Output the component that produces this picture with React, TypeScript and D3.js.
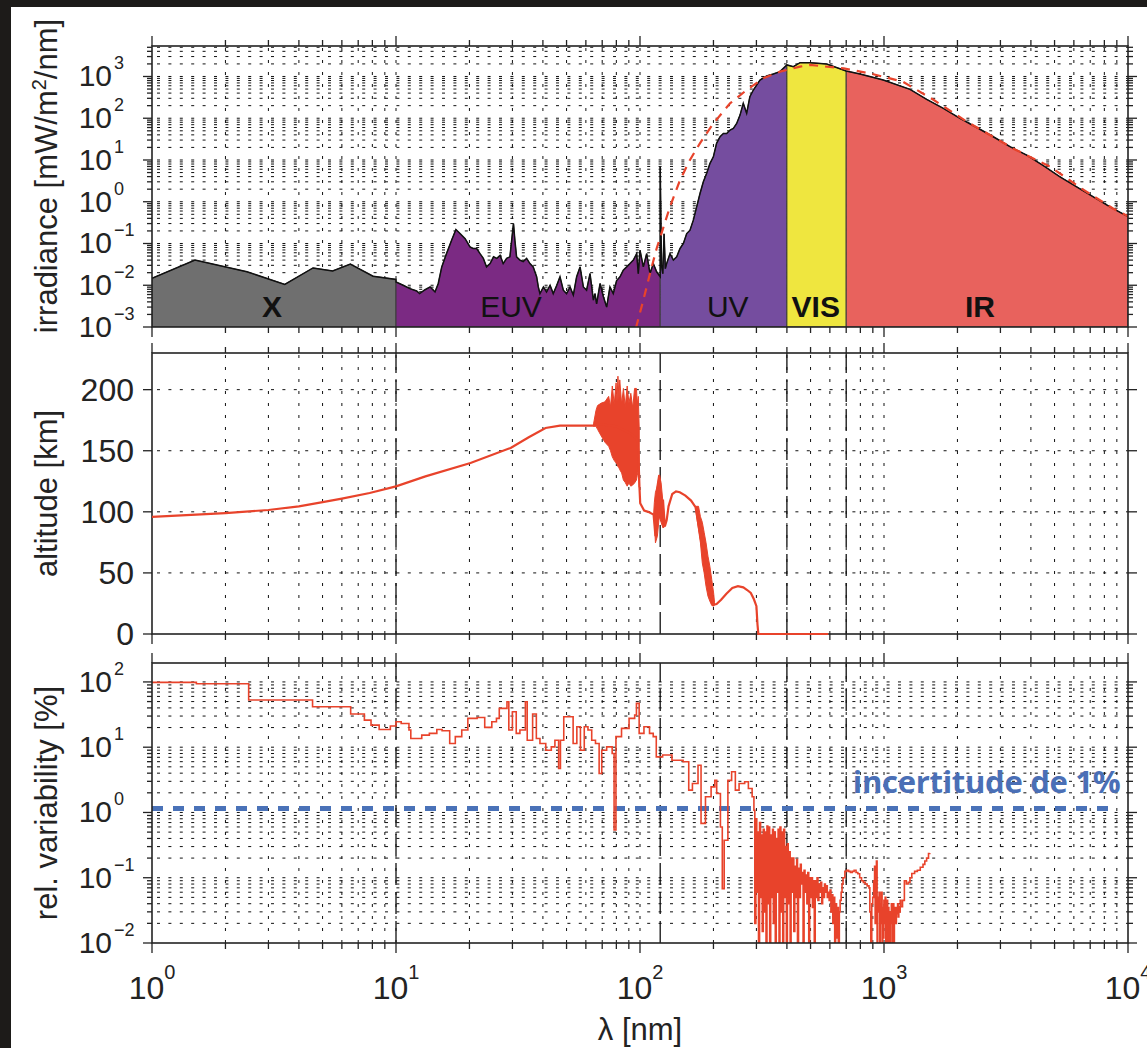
import React from 'react';
import * as d3 from 'd3';

type P = [number, number];
type E = [number, number, number];

// ---------------- DATA ----------------
// Irradiance spectrum [nm, mW/m²/nm], per band
const xRayIrradiance: P[] = [
  [1, 0.0147], [1.5, 0.04], [2.45, 0.021], [3.5, 0.0105], [4.57, 0.026], [5.5, 0.022],
  [6.5, 0.032], [8.05, 0.0165], [10, 0.0138],
];
const euvIrradiance: P[] = [
  [10, 0.012], [10.7, 0.01], [11.4, 0.0083], [12.15, 0.0073], [12.5, 0.0063], [13.15, 0.0078],
  [13.8, 0.0091], [14.45, 0.0069], [14.9, 0.011], [15.4, 0.0275], [16.1, 0.057], [16.9, 0.12],
  [17.6, 0.216], [18.3, 0.173], [19.2, 0.13], [20.1, 0.083], [20.7, 0.076], [21.4, 0.076],
  [22.1, 0.057], [22.8, 0.044], [23.5, 0.0275], [24.3, 0.033], [25.1, 0.048], [25.9, 0.044],
  [26.7, 0.052], [27.5, 0.033], [28.4, 0.044], [29.3, 0.048], [30.3, 0.3], [30.7, 0.12],
  [31.2, 0.048], [32.2, 0.04], [33.2, 0.037], [34.3, 0.044], [35.4, 0.033], [36.5, 0.0275],
  [37.7, 0.016], [38.3, 0.0091], [38.9, 0.0063], [40.2, 0.0091], [41.4, 0.0069], [42.8, 0.01],
  [44.1, 0.0063], [45.6, 0.01], [47.0, 0.016], [48.5, 0.0076], [50.0, 0.0063], [51.7, 0.0091],
  [53.3, 0.0058], [55.0, 0.016], [56.8, 0.0275], [58.6, 0.0091], [60.4, 0.0076], [62.4, 0.019],
  [64.4, 0.0044], [65.4, 0.0063], [66.4, 0.0036], [68.6, 0.011], [70.8, 0.0053], [73.0, 0.003],
  [75.3, 0.0091], [77.7, 0.0063], [80.2, 0.013], [82.8, 0.016], [85.4, 0.023], [88.2, 0.0275],
  [91.0, 0.033], [93.9, 0.04], [96.9, 0.057], [98.4, 0.019], [100, 0.069], [103.2, 0.0275],
  [106.5, 0.057], [109.9, 0.019], [113.4, 0.033], [117.0, 0.021], [121, 0.016],
];
const uvIrradiance: P[] = [
  [121, 6.9], [122.5, 0.03], [124, 0.019], [125.5, 0.17], [127, 0.025], [128.6, 0.033],
  [132.7, 0.057], [137, 0.04], [141.4, 0.048], [145.9, 0.076], [150.6, 0.1], [155.4, 0.173],
  [160.3, 0.208], [165.4, 0.362], [170.7, 0.755], [176.2, 1.58], [181.8, 3.0], [187.6, 4.8],
  [193.6, 8.3], [199.8, 11.9], [206, 25], [212.8, 36], [219.6, 43], [226.6, 43], [233.9, 52],
  [241.3, 57], [249, 75], [257, 119], [265, 227], [273.6, 131], [282, 328], [291.4, 474],
  [310.3, 824], [330.4, 1028], [351.9, 1148], [374.7, 1306], [400, 1889],
];
const visIrradiance: P[] = [
  [400, 1889], [425, 1722], [453, 2146], [497, 2146], [582, 1995], [700, 1350],
];
const irIrradiance: P[] = [
  [700, 1350], [797, 1148], [993, 824], [1278, 492], [1496, 283], [1751, 172], [2049, 99],
  [2399, 60], [2806, 36], [3284, 20.8], [3844, 13.1], [4498, 7.3], [5263, 3.96], [6160, 2.28],
  [7210, 1.31], [8437, 0.755], [10000, 0.44],
];
// dashed reference curve (black body)
const blackbodyCurve: P[] = [
  [93, 0.0004], [96.9, 0.0011], [103.2, 0.0044], [109.9, 0.019], [117, 0.076], [124.6, 0.24],
  [132.7, 0.755], [145.9, 3.3], [160, 9.9], [176, 25], [199.8, 75], [233.9, 227], [273.6, 474],
  [320, 904], [374.7, 1306], [453, 1722], [497, 1889], [684, 1563], [897, 1148], [1197, 745],
  [1600, 273], [2136, 90], [3378, 18.9], [4795, 6.9], [6441, 2.08], [8674, 0.69], [10000, 0.45],
];

// Altitude of absorption [nm, km]
const altitudeLine: P[] = [
  [1, 95.8], [2, 99], [3, 101.5], [4, 104.5], [4.94, 107.7], [6, 110.8], [7.8, 115.4], [10, 120.8],
  [13.2, 129], [20.2, 140], [29.5, 152.3], [35, 161], [41, 168.6], [47, 170.5], [55, 170.5],
  [64.5, 170.5], [67, 172], [80, 170], [90, 165], [97, 160], [98.4, 150], [99.5, 120],
  [100.2, 107], [104, 101], [108, 100], [113.7, 97.7], [115.7, 80], [117.8, 120], [119.9, 130],
  [122, 95], [124.2, 110], [126.4, 88], [128.6, 93], [130.9, 104.5], [135.6, 114.6],
  [140.5, 116.7], [145.6, 116], [153.5, 113.3], [161.9, 109.2], [168.9, 103.8], [176.9, 80],
  [186.5, 50], [196.8, 28], [200.3, 24], [206, 24.5], [215, 28.1], [226, 33], [239, 37.6],
  [252, 39.1], [265, 38.2], [275, 36], [284.5, 33.6], [293, 28.4], [300, 22.8], [303, 8],
  [305.5, 0], [591, 0],
];
// scatter envelopes [nm, low km, high km]
const altitudeBand1: E[] = [
  [64.5, 170, 172], [66, 170, 183], [67, 167.5, 187], [69.4, 162, 189], [71.8, 157, 190],
  [74.4, 153.6, 194.5], [75.7, 150, 186], [77, 145, 203], [78.4, 142, 188], [79.8, 140, 205.6],
  [80.5, 139, 190], [81.2, 137, 211], [82, 136, 192], [82.6, 134.5, 208], [84.1, 131.8, 188],
  [85.5, 126, 201], [87, 124, 186], [88.6, 121, 203], [90.1, 123.6, 189], [91.7, 121, 197],
  [93.4, 122, 185], [95, 123.6, 201], [96.7, 126, 201], [97.5, 130, 188], [98.4, 134.5, 194.5],
  [99.3, 120, 167],
];
const altitudeBand2: E[] = [
  [113.7, 97.7, 97.7], [114.5, 91.5, 107.8], [115.7, 74.6, 116], [117.8, 80, 121],
  [119.9, 96, 130.3], [122, 91.5, 124], [124.2, 86.8, 107.8], [126.4, 88, 92],
];
const altitudeBand3: E[] = [
  [168.9, 103.8, 104.5], [170.7, 96, 104.5], [173.7, 85.5, 104.5], [176.9, 74.6, 96],
  [180, 58.2, 91.5], [183.2, 50, 83.2], [186.5, 39, 74.6], [189.9, 31, 63.7], [193.3, 26.9, 55.5],
  [196.8, 23.4, 44.6], [200.3, 22.8, 33.6], [202, 24, 26],
];

// Relative variability [nm, %]
const variability: P[] = [
  [1.0, 98.5], [1.52, 94], [2.49, 52.8], [4.55, 41.7], [6.52, 32.2], [7.42, 26], [7.9, 21.8],
  [8.53, 18.7], [9.48, 21.1], [10.0, 24.5], [10.5, 23.1], [11.3, 18.3], [11.5, 13.6],
  [12.75, 15.3], [13.7, 16.3], [14.7, 18.7], [15.45, 17.9], [16.6, 11.4], [17.5, 14.5],
  [18.6, 18.3], [19.7, 27.6], [21.5, 28.5], [23.1, 20.1], [24.7, 24.5], [25.8, 27.6],
  [26.5, 39.3], [28.5, 49.8], [29, 18.3], [30, 34.9], [31.1, 16.3], [32.2, 18.3], [33.9, 49.8],
  [34.5, 12.8], [36.3, 32.2], [37.6, 13.6], [38.9, 11.4], [41.1, 9.0], [43.3, 10.1],
  [44.8, 12.8], [46.4, 4.72], [47.2, 12.8], [48.7, 29.3], [51.3, 29.3], [53.2, 11.4],
  [55.1, 20.6], [57.0, 9.0], [59.1, 20.6], [61.2, 18.3], [63.4, 12.8], [65.7, 11.4], [68.0, 3.96],
  [69.7, 9.0], [73.0, 10.1], [76.9, 8.0], [78.3, 0.54], [79.7, 14.5], [84.0, 19.4], [90.2, 27.6],
  [95.1, 31.1], [96.7, 46.9], [99.2, 16.3], [103.8, 20.6], [109.4, 16.3], [113.3, 14.5],
  [116.6, 7.1], [123.8, 7.6], [135.2, 6.3], [150.2, 6.0], [158.4, 2.2], [164, 2.78],
  [172.9, 5.3], [177.9, 0.68], [185.5, 1.74], [195.6, 2.47], [202.6, 3.1], [206.2, 1.95],
  [213.6, 0.6], [217.4, 0.068], [221.3, 0.376], [229.2, 3.1], [237.4, 4.2], [245.9, 2.2],
  [254.7, 2.78], [268.5, 2.95], [278.1, 2.33], [288.1, 1.74],
  [293, 1.08], [295.5, 0.02], [298.4, 0.8], [301, 0.06], [303.6, 0.5], [306, 0.008], [309, 0.7],
  [312, 0.05], [314.5, 0.45], [317, 0.015], [320, 0.55], [323, 0.03], [325.7, 0.5],
  [328.5, 0.006], [331.4, 0.62], [334, 0.04], [337.3, 0.6], [340, 0.008], [343.3, 0.45],
  [346, 0.05], [349.3, 0.55], [352, 0.02], [355.5, 0.5], [358.5, 0.007], [361.7, 0.4],
  [365, 0.06], [368.2, 0.55], [371.4, 0.009], [374.6, 0.6], [378, 0.03], [381.3, 0.5],
  [384.6, 0.006], [388, 0.55], [391.4, 0.05], [394.8, 0.3], [398, 0.008], [401.8, 0.33],
  [405, 0.04], [409, 0.25], [412.5, 0.009], [416.1, 0.2], [420, 0.06], [423.5, 0.2],
  [427, 0.015], [431, 0.15], [434.5, 0.05], [438.6, 0.19], [442, 0.007], [446.3, 0.14],
  [450, 0.05], [454.3, 0.16], [458, 0.08], [462.2, 0.12], [466, 0.009], [470.4, 0.13],
  [474.5, 0.06], [478.7, 0.11], [483, 0.04], [487.2, 0.12], [491.5, 0.008], [495.8, 0.1],
  [500, 0.05], [504.5, 0.1], [509, 0.035], [513.4, 0.09], [518, 0.006], [522.5, 0.09],
  [527, 0.05], [531.7, 0.1], [536, 0.045], [541, 0.08], [545.5, 0.06], [550.6, 0.085],
  [555.5, 0.04], [560.3, 0.07], [565, 0.05], [570.2, 0.08], [575, 0.06], [580.3, 0.075],
  [585.5, 0.05], [590.5, 0.06], [596, 0.045], [601, 0.065], [606, 0.03], [611.6, 0.055],
  [617, 0.02], [622.4, 0.05], [628, 0.007], [633.4, 0.04], [639, 0.012], [644.6, 0.035],
  [650, 0.006], [656, 0.03], [661, 0.045], [667.5, 0.06], [673, 0.08], [679.3, 0.1],
  [691.3, 0.125], [703.5, 0.13], [716, 0.125], [728.5, 0.12], [741, 0.125], [754.5, 0.13],
  [768, 0.12], [781.3, 0.115], [795, 0.1], [809, 0.09], [823, 0.085], [838, 0.08], [853, 0.075],
  [868, 0.07], [875, 0.03], [883, 0.005], [891, 0.04], [899, 0.05], [907, 0.09], [915, 0.15],
  [920, 0.02], [925, 0.06], [931, 0.18], [937, 0.007], [942, 0.05], [948, 0.03], [955, 0.06],
  [960, 0.008], [965, 0.04], [970, 0.02], [975, 0.06], [982, 0.006], [988, 0.035],
  [994, 0.012], [999, 0.045], [1005, 0.02], [1011, 0.05], [1017, 0.007], [1023, 0.03],
  [1029, 0.045], [1035, 0.01], [1041, 0.035], [1047, 0.025], [1053, 0.006], [1060, 0.03],
  [1066, 0.02], [1072, 0.04], [1078, 0.008], [1084, 0.03], [1091, 0.04], [1097, 0.008],
  [1103, 0.025], [1110, 0.035], [1117, 0.02], [1124, 0.035], [1130, 0.028], [1137, 0.04],
  [1143, 0.025], [1150, 0.036], [1157, 0.03], [1165, 0.045], [1172, 0.036], [1191, 0.045],
  [1212, 0.09], [1234, 0.08], [1256, 0.085], [1278, 0.1], [1300, 0.116], [1335, 0.125],
  [1370, 0.13], [1408, 0.145], [1445, 0.16], [1470, 0.18], [1495, 0.2], [1522, 0.235],
  [1540, 0.24],
];
const uncertaintyLevel = 1.15; // %
const uncertaintyRange: P = [1, 9100];
const uncertaintyLabel = 'incertitude de 1%';

const bandEdges = [10, 121, 400, 700];
const bandLabels = [
  { name: 'X', lam: 3.1, bold: true },
  { name: 'EUV', lam: 29.6, bold: false },
  { name: 'UV', lam: 229, bold: false },
  { name: 'VIS', lam: 525, bold: true },
  { name: 'IR', lam: 2473, bold: true },
];
const bandLabelLevel = 0.0017;

const xExponents = [0, 1, 2, 3, 4];
const irrExponents = [-3, -2, -1, 0, 1, 2, 3];
const altTicks = [0, 50, 100, 150, 200];
const varExponents = [-2, -1, 0, 1, 2];

// ---------------- LAYOUT ----------------
const W = 1147;
const H = 1048;
const XL = 152;
const XR = 1128;
const FONT = "'Liberation Sans', Arial, Helvetica, sans-serif";
const RED = '#e8432b';
const INK = '#232323';

const x = d3.scaleLog().domain([1, 1e4]).range([XL, XR]);
const yIrr = d3.scaleLog().domain([1e-3, Math.pow(10, 3.73)]).range([327, 46]);
const yAlt = d3.scaleLinear().domain([0, 230]).range([634, 353]);
const yVar = d3.scaleLog().domain([1e-2, Math.pow(10, 2.29)]).range([943, 663]);

function logTicks(lo: number, hi: number): number[] {
  const out: number[] = [];
  for (let e = Math.floor(Math.log10(lo)); e <= Math.ceil(Math.log10(hi)); e++) {
    for (let m = 1; m <= 9; m++) {
      const v = m * Math.pow(10, e);
      if (v >= lo * 0.9999 && v <= hi * 1.0001) out.push(v);
    }
  }
  return out;
}
const isDecade = (v: number) => Math.abs(Math.log10(v) - Math.round(Math.log10(v))) < 1e-6;
const sup = (k: number) => (k < 0 ? '\u2212' + Math.abs(k) : String(k));

const xAll = logTicks(1, 1e4);

function Frame({ y, yTicks, yMajor }: { y: any; yTicks: number[]; yMajor: (v: number) => boolean }) {
  const [yb, yt] = y.range();
  return (
    <g stroke={INK} fill="none">
      <rect x={XL} y={yt} width={XR - XL} height={yb - yt} strokeWidth={1.6} />
      {xAll.map((v, i) => {
        const L = isDecade(v) ? 10 : 6;
        return (
          <g key={'xt' + i} strokeWidth={1.3}>
            <line x1={x(v)} x2={x(v)} y1={yb} y2={yb + L} />
            <line x1={x(v)} x2={x(v)} y1={yt} y2={yt - L} />
          </g>
        );
      })}
      {yTicks.map((v, i) => {
        const L = yMajor(v) ? 9 : 5;
        return (
          <g key={'yt' + i} strokeWidth={1.3}>
            <line x1={XL} x2={XL - L} y1={y(v)} y2={y(v)} />
            <line x1={XR} x2={XR + L} y1={y(v)} y2={y(v)} />
          </g>
        );
      })}
    </g>
  );
}

function Grid({ y, hVals }: { y: any; hVals: number[] }) {
  const [yb, yt] = y.range();
  return (
    <g stroke="#111" strokeWidth={1} fill="none">
      {xAll.filter((v) => v > 1 && v < 1e4).map((v, i) => (
        <line key={'gv' + i} x1={x(v)} x2={x(v)} y1={yb} y2={yt} strokeDasharray="3,9" />
      ))}
      {hVals.map((v, i) => (
        <line key={'gh' + i} x1={XL} x2={XR} y1={y(v)} y2={y(v)} strokeDasharray="3,8.4" strokeDashoffset={-5} />
      ))}
    </g>
  );
}

function Boundaries({ y }: { y: any }) {
  const [yb, yt] = y.range();
  return (
    <g stroke="#111" strokeWidth={1.3}>
      {bandEdges.map((v, i) => (
        <line key={i} x1={x(v)} x2={x(v)} y1={yb} y2={yt} strokeDasharray="22,7" />
      ))}
    </g>
  );
}

function LogLabels({ y, exps, size, supSize }: { y: any; exps: number[]; size: number; supSize: number }) {
  return (
    <g fill={INK}>
      {exps.map((k) => {
        const yy = y(Math.pow(10, k));
        return (
          <g key={k}>
            <text x={112} y={yy + 10} textAnchor="end" fontSize={size}>10</text>
            <text x={114} y={yy - 7} textAnchor="start" fontSize={supSize}>{sup(k)}</text>
          </g>
        );
      })}
    </g>
  );
}

export default function App() {
  const irrTicks = logTicks(1e-3, Math.pow(10, 3.73));
  const varTicks = logTicks(1e-2, Math.pow(10, 2.29));

  const irrBase = yIrr(1e-3);
  const area = d3
    .area<P>()
    .x((d) => x(d[0]))
    .y0(irrBase)
    .y1((d) => yIrr(d[1]));
  const irrLine = d3
    .line<P>()
    .x((d) => x(d[0]))
    .y((d) => yIrr(d[1]));
  const outline = [...xRayIrradiance, ...euvIrradiance, ...uvIrradiance, ...visIrradiance.slice(1), ...irIrradiance.slice(1)];
  const bands: { data: P[]; color: string }[] = [
    { data: xRayIrradiance, color: '#6f6f6f' },
    { data: euvIrradiance, color: '#7b2a83' },
    { data: uvIrradiance, color: '#754d9f' },
    { data: visIrradiance, color: '#efe63f' },
    { data: irIrradiance, color: '#e8625d' },
  ];

  const altLine = d3
    .line<P>()
    .x((d) => x(d[0]))
    .y((d) => yAlt(d[1]));
  const altArea = d3
    .area<E>()
    .x((d) => x(d[0]))
    .y0((d) => yAlt(d[1]))
    .y1((d) => yAlt(d[2]));

  const varLine = d3
    .line<P>()
    .x((d) => x(d[0]))
    .y((d) => yVar(d[1]))
    .curve(d3.curveStepAfter);

  const [ab, at] = yAlt.range();
  const [vb, vt] = yVar.range();

  return (
    <div style={{ position: 'absolute', left: 0, top: 0, width: W, height: H, overflow: 'hidden' }}>
      <svg width={W} height={H} style={{ display: 'block' }} fontFamily={FONT}>
        <defs>
          <clipPath id="cTop"><rect x={XL} y={46} width={XR - XL} height={327 - 46} /></clipPath>
          <clipPath id="cMid"><rect x={XL} y={at} width={XR - XL} height={ab - at + 3} /></clipPath>
          <clipPath id="cBot"><rect x={XL} y={vt} width={XR - XL} height={vb - vt} /></clipPath>
        </defs>
        <rect width={W} height={H} fill="#1d1b19" />
        <rect x={11} y={7} width={W - 11} height={H - 7} fill="#ffffff" />

        {/* ---------- Top panel: irradiance ---------- */}
        <Grid y={yIrr} hVals={irrTicks.filter((v) => v > 1e-3)} />
        <g clipPath="url(#cTop)">
          {bands.map((b, i) => (
            <path key={i} d={area(b.data) || ''} fill={b.color} stroke="#3a3a3a" strokeWidth={1} />
          ))}
          <path d={irrLine(outline) || ''} fill="none" stroke="#111" strokeWidth={1.5} />
          <path d={irrLine(blackbodyCurve) || ''} fill="none" stroke={RED} strokeWidth={2.2} strokeDasharray="9,7" />
        </g>
        {bandLabels.map((b) => (
          <text
            key={b.name}
            x={x(b.lam)}
            y={yIrr(bandLabelLevel)}
            textAnchor="middle"
            fontSize={30}
            fontWeight={b.bold ? 700 : 400}
            fill="#111"
          >
            {b.name}
          </text>
        ))}
        <Frame y={yIrr} yTicks={irrTicks} yMajor={isDecade} />
        <LogLabels y={yIrr} exps={irrExponents} size={30} supSize={18} />
        <text transform={`translate(57,176) rotate(-90)`} textAnchor="middle" fontSize={31} fill={INK}>
          irradiance [mW/m<tspan dy={-11} fontSize={20}>2</tspan>
          <tspan dy={11}>/nm]</tspan>
        </text>

        {/* ---------- Middle panel: altitude ---------- */}
        <Grid y={yAlt} hVals={altTicks.filter((v) => v > 0)} />
        <Boundaries y={yAlt} />
        <Frame y={yAlt} yTicks={altTicks} yMajor={() => true} />
        <g clipPath="url(#cMid)">
          {[altitudeBand1, altitudeBand2, altitudeBand3].map((b, i) => (
            <path key={i} d={altArea(b) || ''} fill={RED} stroke={RED} strokeWidth={1} />
          ))}
          <path d={altLine(altitudeLine) || ''} fill="none" stroke={RED} strokeWidth={2.2} />
        </g>
        <g fill={INK}>
          {altTicks.map((v) => (
            <text key={v} x={134} y={yAlt(v) + 11} textAnchor="end" fontSize={32}>{v}</text>
          ))}
        </g>
        <text transform={`translate(57,${(ab + at) / 2}) rotate(-90)`} textAnchor="middle" fontSize={31} fill={INK}>
          altitude [km]
        </text>

        {/* ---------- Bottom panel: variability ---------- */}
        <Grid y={yVar} hVals={varTicks.filter((v) => v > 1e-2)} />
        <Boundaries y={yVar} />
        <g clipPath="url(#cBot)">
          <line
            x1={x(uncertaintyRange[0])}
            x2={x(uncertaintyRange[1])}
            y1={yVar(uncertaintyLevel)}
            y2={yVar(uncertaintyLevel)}
            stroke="#4a72b8"
            strokeWidth={5}
            strokeDasharray="11,10"
          />
          <path d={varLine(variability) || ''} fill="none" stroke={RED} strokeWidth={1.6} />
        </g>
        <text
          x={x(9300)}
          y={yVar(2.0)}
          textAnchor="end"
          fontSize={31}
          fontWeight={700}
          letterSpacing={-0.3}
          fontFamily="'Open Sans', 'Noto Sans', sans-serif"
          fill="#4a6fb6"
        >
          {uncertaintyLabel}
        </text>
        <Frame y={yVar} yTicks={varTicks} yMajor={isDecade} />
        <LogLabels y={yVar} exps={varExponents} size={30} supSize={18} />
        <text transform={`translate(57,${(vb + vt) / 2}) rotate(-90)`} textAnchor="middle" fontSize={31} fill={INK}>
          rel. variability [%]
        </text>

        {/* x tick labels */}
        <g fill={INK}>
          {xExponents.map((k) => (
            <text key={k} x={x(Math.pow(10, k))} y={999} textAnchor="middle" fontSize={32}>
              10<tspan dy={-20} fontSize={20}>{k}</tspan>
            </text>
          ))}
        </g>
        <text x={(XL + XR) / 2} y={1040} textAnchor="middle" fontSize={31} fill={INK}>
          λ [nm]
        </text>
      </svg>
    </div>
  );
}
